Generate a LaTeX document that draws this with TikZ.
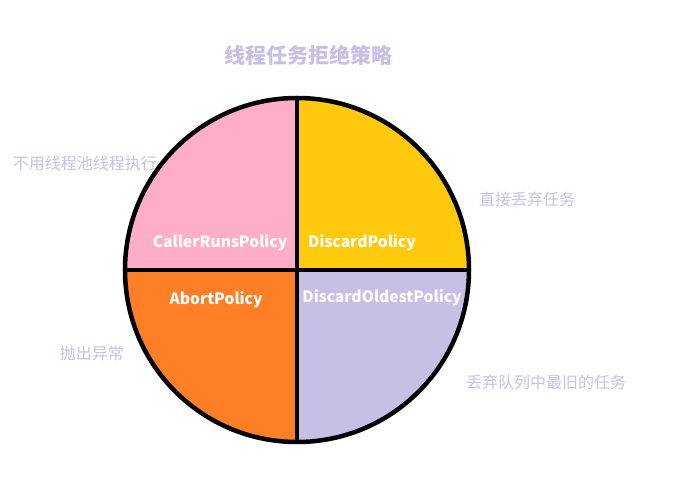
\documentclass[tikz,border=0pt]{standalone}
\usepackage{fontspec}
\setmainfont{Noto Sans CJK SC}
\usepackage{tikz}
\usetikzlibrary{positioning}
\definecolor{rjpink}{HTML}{FFAEC9}
\definecolor{rjyellow}{HTML}{FFC90E}
\definecolor{rjorange}{HTML}{FF7F27}
\definecolor{rjlilac}{HTML}{C8BFE7}
\begin{document}
\begin{tikzpicture}[
    x=1pt, y=1pt,
    policy/.style={font=\fontsize{15.6}{17}\selectfont\bfseries, text=white, inner sep=0pt},
    note/.style={font=\fontsize{16}{18}\selectfont, text=rjlilac, inner sep=0pt},
    rim/.style={draw=black, line width=4.5pt},
]
% canvas
\useasboundingbox (-297,-225) rectangle (401,270);
\coordinate (ctr) at (0,0);

% quadrants
\fill[rjyellow] (ctr) -- (0:172) arc[start angle=0, end angle=90, radius=172] -- cycle;
\fill[rjpink] (ctr) -- (90:172) arc[start angle=90, end angle=180, radius=172] -- cycle;
\fill[rjorange] (ctr) -- (180:172) arc[start angle=180, end angle=270, radius=172] -- cycle;
\fill[rjlilac] (ctr) -- (270:172) arc[start angle=270, end angle=360, radius=172] -- cycle;

% outline and cross
\draw[rim] (ctr) circle[radius=172];
\draw[rim] (-172,0) -- (172,0);
\draw[rim] (0,172) -- (0,-172);

% title
\node[font=\fontsize{21}{24}\selectfont\bfseries, text=rjlilac] (title) at (12,215) {线程任务拒绝策略};

% policy names
\node[policy] (caller) at (-77,27) {CallerRunsPolicy};
\node[policy] (discard) at (65,27) {DiscardPolicy};
\node[policy] (abort) at (-81,-30) {AbortPolicy};
\node[policy] (oldest) at (85,-28) {DiscardOldestPolicy};

% descriptions
\node[note] (callernote) at (-212,107) {不用线程池线程执行};
\node[note] (discardnote) at (230,71) {直接丢弃任务};
\node[note] (abortnote) at (-205,-83) {抛出异常};
\node[note] (oldestnote) at (249,-112) {丢弃队列中最旧的任务};

\end{tikzpicture}
\end{document}
